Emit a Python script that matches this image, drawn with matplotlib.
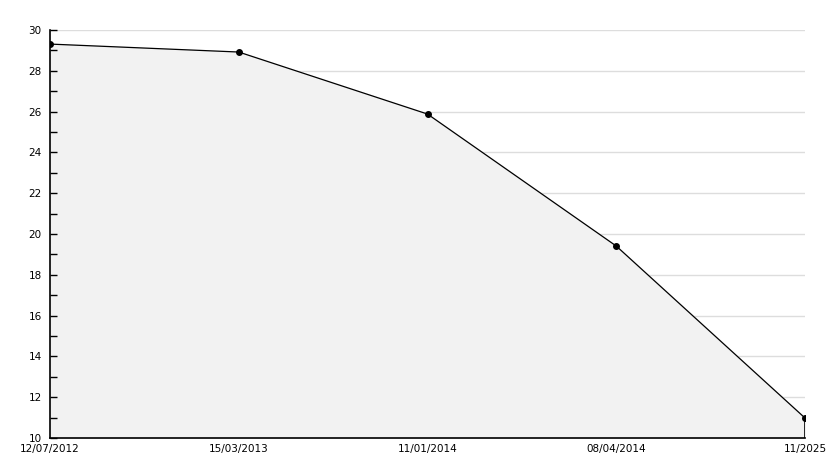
import numpy as np
import matplotlib.pyplot as plt

dates = ['12/07/2012', '15/03/2013', '11/01/2014', '08/04/2014', '11/2025']
values = [29.31, 28.92, 25.88, 19.41, 10.98]

x = np.arange(len(dates))

fig = plt.figure(figsize=(8.34, 4.68), dpi=100)
ax = fig.add_axes([50/834, 1 - 438/468, 755/834, 408/468])

ax.fill_between(x, values, 10, color='#f2f2f2', zorder=1)
ax.plot(x, values, color='black', lw=0.9, marker='o', ms=4, zorder=3)
ax.vlines(x[-1], 10, values[-1], color='black', lw=1.2, zorder=3)

ax.set_xlim(0, len(dates) - 1)
ax.set_ylim(10, 30)
ax.set_yticks(np.arange(10, 31, 2))
ax.set_yticks(np.arange(11, 30, 2), minor=True)
ax.set_xticks(x)
ax.set_xticklabels(dates)

for yv in np.arange(12, 31, 2):
    ax.axhline(yv, color='#dddddd', lw=1, zorder=0)

for side in ['top', 'right']:
    ax.spines[side].set_visible(False)
ax.spines['left'].set_linewidth(1.2)
ax.spines['bottom'].set_linewidth(1.2)

ax.tick_params(axis='y', which='major', direction='in', length=5, width=1, labelsize=7.5, pad=6)
ax.tick_params(axis='y', which='minor', direction='in', length=5, width=1)
ax.tick_params(axis='x', length=0, labelsize=7.5, pad=4)

fig.savefig('out.png', dpi=100)
